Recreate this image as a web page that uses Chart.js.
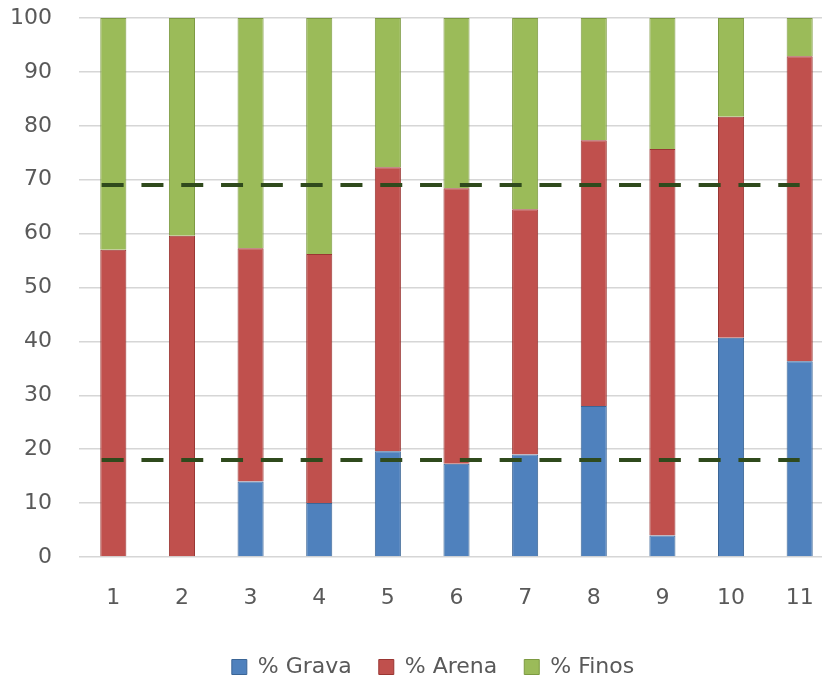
<!DOCTYPE html>
<html>
<head>
<meta charset="utf-8">
<script src="https://cdn.jsdelivr.net/npm/chart.js@4/dist/chart.umd.min.js"></script>
<style>
  html, body { margin: 0; padding: 0; background: #fff; overflow: hidden; }
  #wrap { position: relative; width: 840px; height: 688px; }
</style>
</head>
<body>
<div id="wrap"><canvas id="c"></canvas></div>
<script>
// Sample numbers along the x axis
const categories = ['1', '2', '3', '4', '5', '6', '7', '8', '9', '10', '11'];

// Grain size fractions per sample (%)
const grava = [0, 0, 14, 10, 19.6, 17.3, 19, 28, 4, 40.7, 36.3];
const arena = [57, 59.6, 43.3, 46.2, 52.7, 51.1, 45.5, 49.3, 71.7, 41, 56.6];
const finos = [43, 40.4, 42.7, 43.8, 27.7, 31.6, 35.5, 22.7, 24.3, 18.3, 7.1];

// Reference limits drawn as dashed horizontal lines
const upperLimit = 69;
const lowerLimit = 18;
const limitSpan = [0.83, 11];   // extent of the limit lines, in sample units

const yTicks = [0, 10, 20, 30, 40, 50, 60, 70, 80, 90, 100];

const textColor = '#595959';
const font = { family: 'DejaVu Sans', size: 22 };

const limitLine = (value) => ({
  type: 'line',
  data: limitSpan.map(x => ({ x: x, y: value })),
  xAxisID: 'xl',
  yAxisID: 'yl',
  borderColor: '#2F4A1C',
  borderWidth: 4,
  borderDash: [22, 17.8],
  borderCapStyle: 'butt',
  pointRadius: 0,
  fill: false,
  order: -1
});

const barSet = (label, data, fill, edge) => ({
  label: label,
  data: data,
  backgroundColor: fill,
  borderColor: edge,
  borderWidth: 1,
  grouped: false,
  barPercentage: 0.38,
  categoryPercentage: 1.0
});

// Centre the legend row under the plot rather than the whole canvas
const legendShift = {
  id: 'legendShift',
  afterLayout(chart) {
    const lg = chart.legend;
    if (lg) { lg.left += 11; lg.right += 11; }
  }
};

new Chart(document.getElementById('c'), {
  type: 'bar',
  data: {
    labels: categories,
    datasets: [
      barSet('% Grava', grava, '#4F81BD', '#3B6596'),
      barSet('% Arena', arena, '#C0504D', '#9A3633'),
      barSet('% Finos', finos, '#9BBB59', '#7D9A42'),
      limitLine(upperLimit),
      limitLine(lowerLimit)
    ]
  },
  plugins: [legendShift],
  options: {
    responsive: true,
    maintainAspectRatio: false,
    animation: false,
    layout: { padding: { left: 10, right: 6, top: 18, bottom: 0 } },
    plugins: {
      tooltip: { enabled: false },
      legend: {
        position: 'bottom',
        labels: {
          color: textColor,
          font: font,
          boxWidth: 15,
          boxHeight: 15,
          padding: 27,
          filter: (item) => item.datasetIndex < 3
        }
      }
    },
    scales: {
      x: {
        stacked: true,
        grid: { display: false, drawTicks: false },
        border: { display: false },
        ticks: { color: textColor, font: font, padding: 28 },
        afterFit: (scale) => {
          scale.height = 72;
          scale.paddingLeft = 0;
          scale.paddingRight = 0;
        }
      },
      y: {
        stacked: true,
        min: 0,
        max: 100,
        afterBuildTicks: (scale) => { scale.ticks = yTicks.map(v => ({ value: v })); },
        grid: { color: '#D6D6D6', lineWidth: 1.5, drawTicks: false },
        border: { display: false },
        ticks: { color: textColor, font: font, padding: 27 },
        afterFit: (scale) => {
          scale.width = 69;
          scale.paddingTop = 0;
          scale.paddingBottom = 0;
        }
      },
      xl: {
        type: 'linear',
        display: false,
        offset: false,
        grid: { offset: false },
        min: 0.5,
        max: 11.5
      },
      yl: {
        display: false,
        min: 0,
        max: 100
      }
    }
  }
});
</script>
</body>
</html>
